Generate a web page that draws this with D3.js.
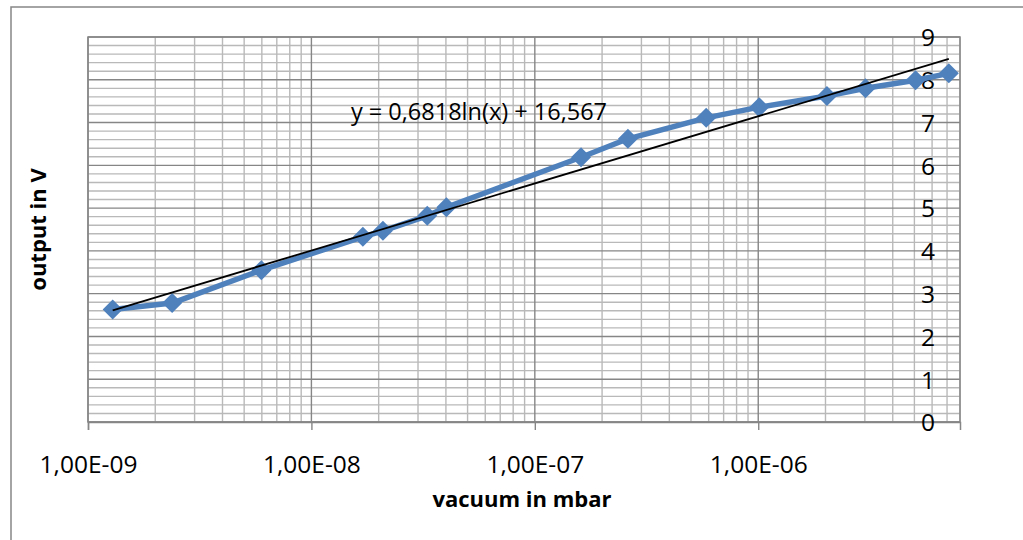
<!DOCTYPE html>
<html>
<head>
<meta charset="utf-8">
<script src="https://cdn.jsdelivr.net/npm/d3@7"></script>
<style>
  html, body { margin: 0; padding: 0; background: #fff; }
  svg { display: block; font-family: 'Open Sans', sans-serif; }
</style>
</head>
<body>
<svg id="root" width="1023" height="540"></svg>
<script>
// measured pressures (mbar) and sensor output (V)
const pressure = [1.29e-9, 2.38e-9, 5.97e-9, 1.70e-8, 2.09e-8, 3.30e-8, 4.02e-8,
  1.61e-7, 2.61e-7, 5.85e-7, 1.01e-6, 2.03e-6, 3.02e-6, 5.06e-6, 7.13e-6];
const output = [2.63, 2.78, 3.55, 4.33, 4.47, 4.82, 5.02,
  6.19, 6.62, 7.11, 7.36, 7.62, 7.80, 7.99, 8.15];

// axis ranges and labels
const xDomain = [1e-9, 8e-6];
const yDomain = [0, 9];
const xMajorTicks = [1e-9, 1e-8, 1e-7, 1e-6];
const xTickLabels = ['1,00E-09', '1,00E-08', '1,00E-07', '1,00E-06'];
const yTicks = [0, 1, 2, 3, 4, 5, 6, 7, 8, 9];

// logarithmic trendline from the chart
const trendSlope = 0.6818;
const trendIntercept = 16.567;
const trendLabel = 'y = 0,6818ln(x) + 16,567';

const xTitle = 'vacuum in mbar';
const yTitle = 'output in V';

const plot = { left: 88, top: 37, right: 960, bottom: 422 };

const svg = d3.select('#root');

const x = d3.scaleLog().domain(xDomain).range([plot.left, plot.right]);
const y = d3.scaleLinear().domain(yDomain).range([plot.bottom, plot.top]);

// chart area border (only left and top edges fall inside the picture)
svg.append('rect')
  .attr('x', 11).attr('y', 7)
  .attr('width', 1200).attr('height', 800)
  .attr('fill', 'none')
  .attr('stroke', '#868686')
  .attr('stroke-width', 1.5);

const grid = svg.append('g').attr('class', 'grid');

// minor gridlines
const xMinor = x.ticks().filter(v => !xMajorTicks.some(m => Math.abs(m - v) / m < 1e-6));
const yMinor = d3.range(yDomain[0], yDomain[1] + 1e-9, 0.2)
  .filter(v => Math.abs(v - Math.round(v)) > 1e-6);

grid.selectAll('.xminor')
  .data(xMinor)
  .enter()
  .append('line')
  .attr('x1', d => x(d)).attr('x2', d => x(d))
  .attr('y1', plot.top).attr('y2', plot.bottom)
  .attr('stroke', '#b9b9b9')
  .attr('stroke-width', 1.4);

grid.selectAll('.yminor')
  .data(yMinor)
  .enter()
  .append('line')
  .attr('x1', plot.left).attr('x2', plot.right)
  .attr('y1', d => y(d)).attr('y2', d => y(d))
  .attr('stroke', '#b9b9b9')
  .attr('stroke-width', 1.4);

// major gridlines
grid.selectAll('.xmajor')
  .data(xMajorTicks)
  .enter()
  .append('line')
  .attr('x1', d => x(d)).attr('x2', d => x(d))
  .attr('y1', plot.top).attr('y2', plot.bottom)
  .attr('stroke', '#868686')
  .attr('stroke-width', 1.4);

grid.selectAll('.ymajor')
  .data(yTicks)
  .enter()
  .append('line')
  .attr('x1', plot.left).attr('x2', plot.right)
  .attr('y1', d => y(d)).attr('y2', d => y(d))
  .attr('stroke', '#868686')
  .attr('stroke-width', 1.4);

// plot area frame
svg.append('rect')
  .attr('x', plot.left).attr('y', plot.top)
  .attr('width', plot.right - plot.left)
  .attr('height', plot.bottom - plot.top)
  .attr('fill', 'none')
  .attr('stroke', '#868686')
  .attr('stroke-width', 1.5);

// x axis with major ticks below
const xAxis = d3.axisBottom(x)
  .tickValues(xMajorTicks)
  .tickSize(8)
  .tickFormat((d, i) => xTickLabels[i]);

const xAxisG = svg.append('g')
  .attr('transform', `translate(0,${plot.bottom})`)
  .call(xAxis);
xAxisG.select('.domain').attr('stroke', '#868686').attr('stroke-width', 1.5);
xAxisG.selectAll('.tick line').attr('stroke', '#868686').attr('stroke-width', 1.4);
xAxisG.selectAll('.tick text')
  .attr('y', 51)
  .attr('dy', 0)
  .attr('fill', '#000')
  .attr('font-family', 'Open Sans')
  .attr('font-size', 24.5);

// y axis sits on the right edge, labels inside the plot
const yAxis = d3.axisLeft(y).tickValues(yTicks).tickSize(0).tickPadding(25);
const yAxisG = svg.append('g')
  .attr('transform', `translate(${plot.right},0)`)
  .call(yAxis);
yAxisG.select('.domain').remove();
yAxisG.selectAll('.tick text')
  .attr('fill', '#000')
  .attr('font-family', 'Open Sans')
  .attr('font-size', 24.5)
  .attr('dy', '0.36em');

// data series
const points = pressure.map((p, i) => ({ p, v: output[i] }));

const line = d3.line().x(d => x(d.p)).y(d => y(d.v));

svg.append('path')
  .datum(points)
  .attr('fill', 'none')
  .attr('stroke', '#4f81bd')
  .attr('stroke-width', 5.5)
  .attr('stroke-linejoin', 'round')
  .attr('d', line);

svg.selectAll('.marker')
  .data(points)
  .enter()
  .append('path')
  .attr('class', 'marker')
  .attr('fill', '#4f81bd')
  .attr('transform', d => `translate(${x(d.p)},${y(d.v)}) rotate(45)`)
  .attr('d', d3.symbol().type(d3.symbolSquare).size(200));

// trendline: straight in log space, drawn between the data extremes
const trendEnds = d3.extent(pressure).map(p => ({ p, v: trendSlope * Math.log(p) + trendIntercept }));

svg.append('path')
  .datum(trendEnds)
  .attr('fill', 'none')
  .attr('stroke', '#000')
  .attr('stroke-width', 1.8)
  .attr('d', line);

svg.append('text')
  .attr('x', 479)
  .attr('y', 120)
  .attr('text-anchor', 'middle')
  .attr('font-size', 23.5)
  .attr('fill', '#000')
  .text(trendLabel);

// axis titles
svg.append('text')
  .attr('x', (plot.left + plot.right) / 2 - 2)
  .attr('y', 507)
  .attr('text-anchor', 'middle')
  .attr('font-size', 22)
  .attr('font-weight', 'bold')
  .attr('fill', '#000')
  .text(xTitle);

svg.append('text')
  .attr('transform', `translate(46,${(plot.top + plot.bottom) / 2}) rotate(-90)`)
  .attr('text-anchor', 'middle')
  .attr('font-size', 22)
  .attr('font-weight', 'bold')
  .attr('fill', '#000')
  .text(yTitle);
</script>
</body>
</html>
